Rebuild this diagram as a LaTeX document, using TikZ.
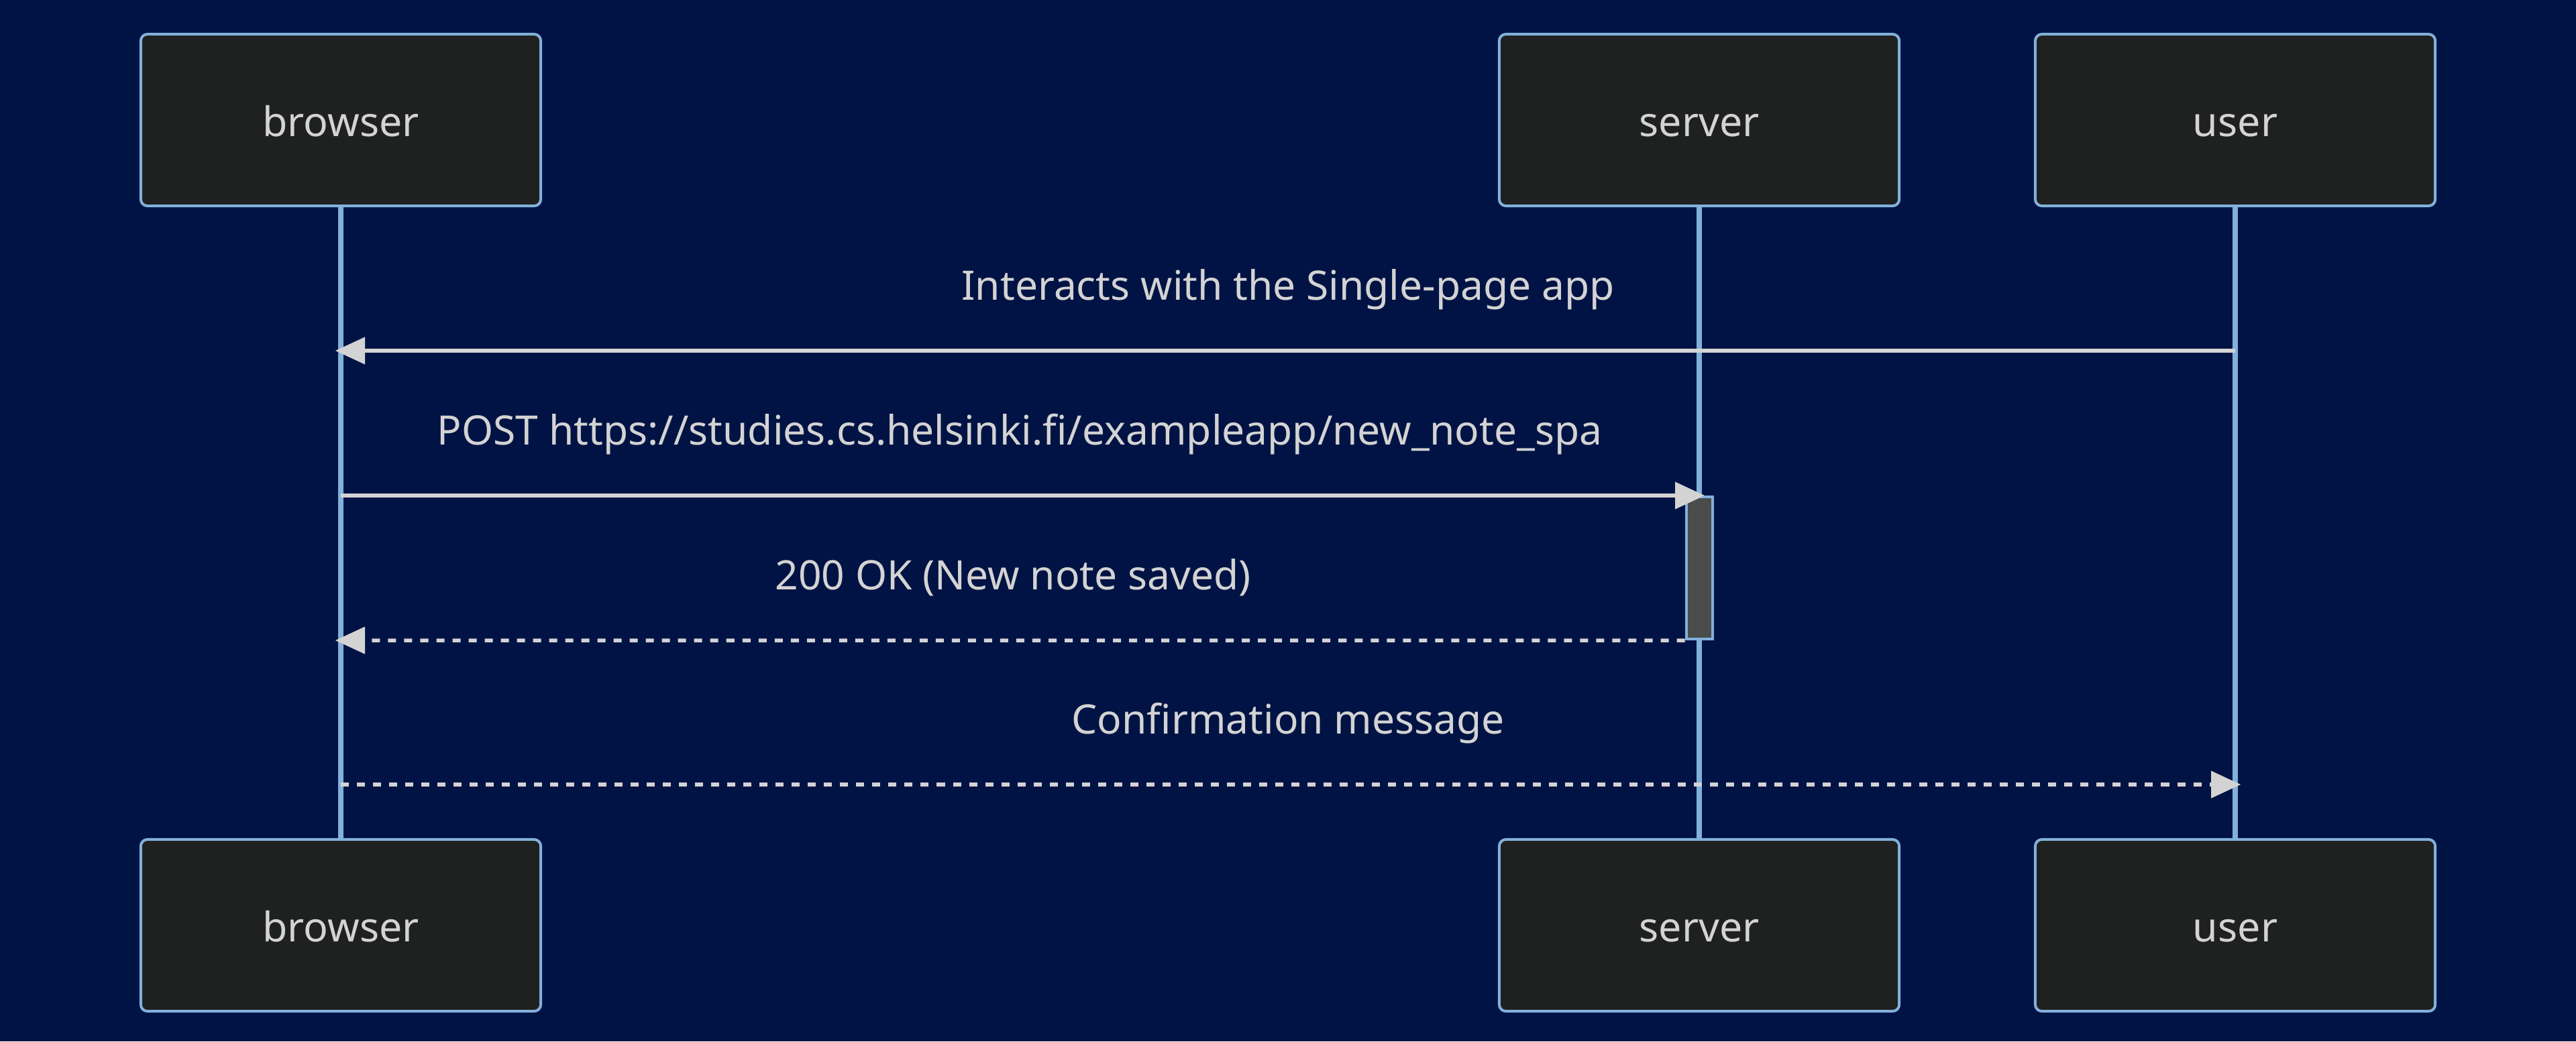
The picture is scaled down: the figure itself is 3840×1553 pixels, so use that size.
\documentclass[tikz,border=0pt]{standalone}
\usepackage{fontspec}
\setmainfont{Noto Sans}
\usetikzlibrary{arrows.meta}
\definecolor{bgc}{HTML}{001344}
\definecolor{actfill}{HTML}{1F2020}
\definecolor{actborder}{HTML}{81B1DB}
\definecolor{txtc}{HTML}{D3D3D3}
\definecolor{actvfill}{HTML}{4B4C4C}
\tikzset{
  actorbox/.style={draw=actborder, fill=actfill, line width=0.04cm, rounded corners=0.1cm,
    minimum width=5.96cm, minimum height=2.56cm, inner sep=0pt, text=txtc,
    text height=0.6cm, text depth=0.12cm,
    font=\fontsize{17.3pt}{21pt}\selectfont},
  lifeline/.style={draw=actborder, line width=0.08cm},
  msg/.style={draw=txtc, line width=0.055cm, -{Triangle[length=0.44cm, width=0.41cm, line width=0pt]}},
  dashmsg/.style={msg, dash pattern=on 0.12cm off 0.12cm},
  msglabel/.style={anchor=base, text=txtc, inner sep=0pt, font=\fontsize{17.2pt}{21pt}\selectfont},
  actbar/.style={draw=actborder, fill=actvfill, line width=0.04cm, minimum width=0.39cm,
    minimum height=2.12cm, inner sep=0pt}
}
\begin{document}
\begin{tikzpicture}[x=0.01cm, y=-0.01cm]
\fill[bgc] (0,0) rectangle (3840,1553);
\useasboundingbox (0,0) rectangle (3840,1553);
% actors
\node[actorbox] (bt) at (508,179) {browser};
\node[actorbox] (st) at (2533,179) {server};
\node[actorbox] (ut) at (3332,179) {user};
\node[actorbox] (bb) at (508,1380) {browser};
\node[actorbox] (sb) at (2533,1380) {server};
\node[actorbox] (ub) at (3332,1380) {user};
% lifelines
\draw[lifeline] (bt.south) -- (bb.north);
\draw[lifeline] (st.south) -- (sb.north);
\draw[lifeline] (ut.south) -- (ub.north);
% levels
\coordinate (m1) at (0,523);
\coordinate (m2) at (0,739);
\coordinate (m3) at (0,955);
\coordinate (m4) at (0,1170);
% activation
\node[actbar] (act) at (2533,847) {};
% messages
\draw[msg] (ut |- m1) -- ([xshift=-0.08cm]bt |- m1);
\node[msglabel] (l1) at (1920,447) {Interacts with the Single-page app};
\draw[msg] (bt |- m2) -- ([xshift=0.08cm]st |- m2);
\node[msglabel] (l2) at (1520,663) {POST https://studies.cs.helsinki.fi/exampleapp/new\_note\_spa};
\draw[dashmsg] (act.south west) -- ([xshift=-0.08cm]bt |- m3);
\node[msglabel] (l3) at (1510,879) {200 OK (New note saved)};
\draw[dashmsg] (bt |- m4) -- ([xshift=0.08cm]ut |- m4);
\node[msglabel] (l4) at (1920,1094) {Confirmation message};
\end{tikzpicture}
\end{document}
